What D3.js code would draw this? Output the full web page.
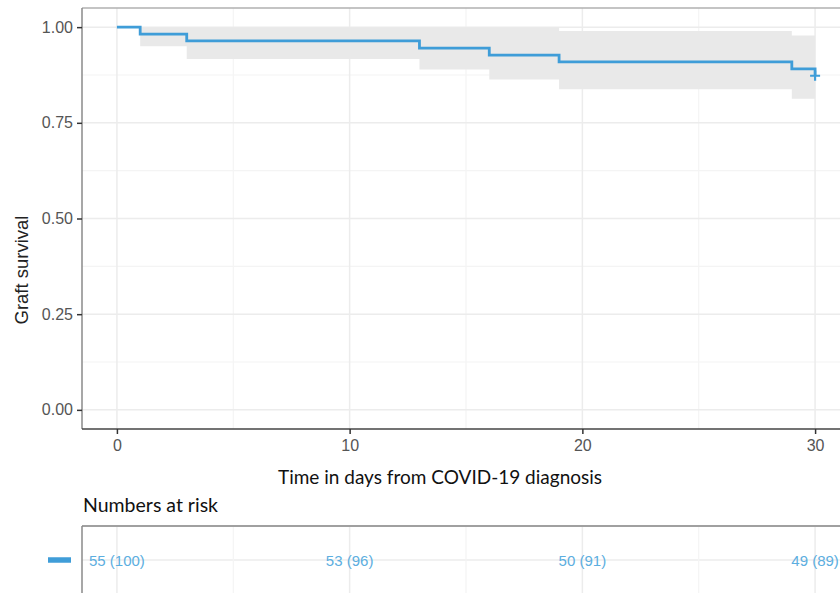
<!DOCTYPE html>
<html>
<head>
<meta charset="utf-8">
<script src="https://cdn.jsdelivr.net/npm/d3@7"></script>
<style>
  body { margin: 0; background: white; }
  svg { display: block; }
</style>
</head>
<body>
<script>
// data
const times   = [0, 1, 3, 13, 16, 19, 29, 30];
const surv    = [1, 0.982, 0.964, 0.945, 0.927, 0.909, 0.891, 0.873];
const lower   = [1, 0.95, 0.917, 0.889, 0.863, 0.838, 0.813, 0.813];
const upper   = [1, 1, 1, 1, 1, 0.99, 0.978, 0.978];
const censorTimes = [30];
const censorSurv  = [0.873];

const riskTimes = [0, 10, 20, 30];
const riskN     = [55, 53, 50, 49];
const riskPct   = [100, 96, 91, 89];

const xTicks = [0, 10, 20, 30],
      xMinor = [5, 15, 25],
      yTicks = [0, 0.25, 0.5, 0.75, 1],
      yMinor = [0.125, 0.375, 0.625, 0.875];

const width = 840, height = 593,
      lineColor = "#3f9dd8",
      riskColor = "#5caee0",
      bandColor = "#e9e9e9",
      gridColor = "#ececec",
      minorColor = "#f4f4f4";

const svg = d3.select("body").append("svg")
  .attr("width", width).attr("height", height);

const x = d3.scaleLinear().domain([-1.5, 31.5]).range([82, 850]);
const y = d3.scaleLinear().domain([-0.05, 1.05]).range([429, 8]);

const pts = times.map((t, i) => ({ t, s: surv[i], lo: lower[i], hi: upper[i] }));

// 1. MAIN PANEL ------------------------------------------------------------
const panel = svg.append("g");

panel.selectAll(".ymin").data(yMinor).enter().append("line")
  .attr("x1", x(-1.5)).attr("x2", x(31.5))
  .attr("y1", d => y(d)).attr("y2", d => y(d))
  .attr("stroke", minorColor).attr("stroke-width", 1.2);
panel.selectAll(".xmin").data(xMinor).enter().append("line")
  .attr("y1", y(-0.05)).attr("y2", y(1.05))
  .attr("x1", d => x(d)).attr("x2", d => x(d))
  .attr("stroke", minorColor).attr("stroke-width", 1.2);
panel.selectAll(".ymaj").data(yTicks).enter().append("line")
  .attr("x1", x(-1.5)).attr("x2", x(31.5))
  .attr("y1", d => y(d)).attr("y2", d => y(d))
  .attr("stroke", gridColor).attr("stroke-width", 1.5);
panel.selectAll(".xmaj").data(xTicks).enter().append("line")
  .attr("y1", y(-0.05)).attr("y2", y(1.05))
  .attr("x1", d => x(d)).attr("x2", d => x(d))
  .attr("stroke", gridColor).attr("stroke-width", 1.5);

// confidence band
const band = d3.area()
  .x(d => x(d.t)).y0(d => y(d.lo)).y1(d => y(d.hi))
  .curve(d3.curveStepAfter);
panel.append("path").datum(pts.slice(1))
  .attr("d", band).attr("fill", bandColor);

// survival curve
const line = d3.line().x(d => x(d.t)).y(d => y(d.s)).curve(d3.curveStepAfter);
panel.append("path").datum(pts)
  .attr("d", line).attr("fill", "none")
  .attr("stroke", lineColor).attr("stroke-width", 2.8);

// censor marks
censorTimes.forEach((t, i) => {
  const cx = x(t), cy = y(censorSurv[i]);
  panel.append("path")
    .attr("d", `M${cx - 5},${cy}H${cx + 5}M${cx},${cy - 5}V${cy + 5}`)
    .attr("stroke", lineColor).attr("stroke-width", 2.2);
});

// borders
panel.append("line").attr("x1", 82).attr("x2", 840).attr("y1", 8).attr("y2", 8)
  .attr("stroke", "#b0b0b0").attr("stroke-width", 1.5);
panel.append("line").attr("x1", 82).attr("x2", 82).attr("y1", 8).attr("y2", 429)
  .attr("stroke", "#8a8a8a").attr("stroke-width", 1.5);
panel.append("line").attr("x1", 82).attr("x2", 840).attr("y1", 429).attr("y2", 429)
  .attr("stroke", "#444").attr("stroke-width", 1.5);

// axes
const yAxis = svg.append("g").attr("transform", "translate(82,0)")
  .call(d3.axisLeft(y).tickValues(yTicks).tickFormat(d3.format(".2f")).tickSize(5).tickPadding(4));
const xAxis = svg.append("g").attr("transform", "translate(0,429)")
  .call(d3.axisBottom(x).tickValues(xTicks).tickSize(5).tickPadding(6));
[yAxis, xAxis].forEach(ax => {
  ax.select(".domain").remove();
  ax.selectAll(".tick line").attr("stroke", "#333").attr("stroke-width", 1.5);
  ax.selectAll("text").attr("fill", "#555")
    .style("font-family", "Liberation Sans, Arial, sans-serif").style("font-size", "16px");
});

svg.append("text")
  .attr("x", 440).attr("y", 484)
  .attr("text-anchor", "middle")
  .style("font-family", "Lato, sans-serif").style("font-size", "19px")
  .attr("fill", "#111")
  .text("Time in days from COVID-19 diagnosis");

svg.append("text")
  .attr("transform", "translate(28,270) rotate(-90)")
  .attr("text-anchor", "middle")
  .style("font-family", "Liberation Sans, Arial, sans-serif").style("font-size", "18.5px")
  .attr("fill", "#222")
  .text("Graft survival");

// 2. RISK TABLE ------------------------------------------------------------
svg.append("text")
  .attr("x", 83).attr("y", 512)
  .style("font-family", "Lato, sans-serif").style("font-size", "19.5px")
  .attr("fill", "#111")
  .text("Numbers at risk");

const risk = svg.append("g");
const rowY = 560;
risk.append("line").attr("x1", 82).attr("x2", 840).attr("y1", rowY).attr("y2", rowY)
  .attr("stroke", gridColor).attr("stroke-width", 1.5);
risk.selectAll(".rmin").data(xMinor).enter().append("line")
  .attr("y1", 526).attr("y2", height)
  .attr("x1", d => x(d)).attr("x2", d => x(d))
  .attr("stroke", minorColor).attr("stroke-width", 1.2);
risk.selectAll(".rmaj").data(xTicks).enter().append("line")
  .attr("y1", 526).attr("y2", height)
  .attr("x1", d => x(d)).attr("x2", d => x(d))
  .attr("stroke", gridColor).attr("stroke-width", 1.5);
risk.append("line").attr("x1", 82).attr("x2", 840).attr("y1", 526).attr("y2", 526)
  .attr("stroke", "#a0a0a0").attr("stroke-width", 2);
risk.append("line").attr("x1", 82).attr("x2", 82).attr("y1", 526).attr("y2", height)
  .attr("stroke", "#8a8a8a").attr("stroke-width", 1.5);

risk.selectAll(".rtext").data(riskTimes).enter().append("text")
  .attr("x", d => x(d)).attr("y", rowY + 5.5)
  .attr("text-anchor", "middle")
  .style("font-family", "Liberation Sans, Arial, sans-serif").style("font-size", "15px")
  .attr("fill", riskColor)
  .text((d, i) => `${riskN[i]} (${riskPct[i]})`);

// legend key
risk.append("line").attr("x1", 48).attr("x2", 71).attr("y1", rowY).attr("y2", rowY)
  .attr("stroke", lineColor).attr("stroke-width", 5.5);
</script>
</body>
</html>
